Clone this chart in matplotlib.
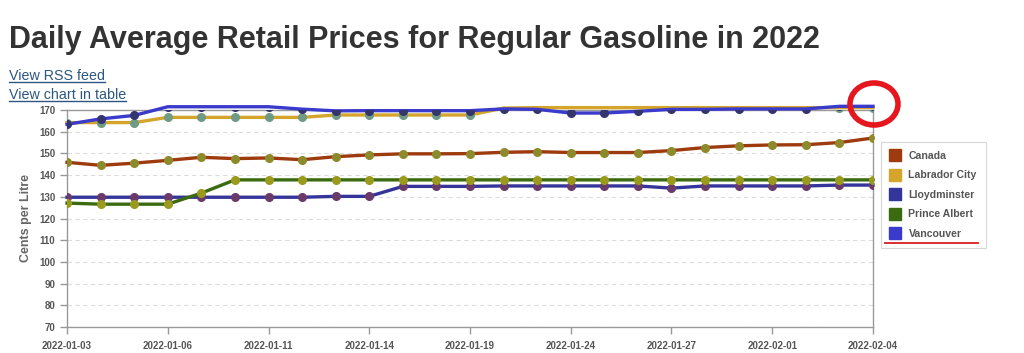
import matplotlib
matplotlib.use("Agg")
import matplotlib.pyplot as plt
from matplotlib.patches import Ellipse
from matplotlib.lines import Line2D

plt.rcParams['font.family'] = ['Liberation Sans', 'DejaVu Sans']

# business days shown on the chart
dates = ["2022-01-03", "2022-01-04", "2022-01-05", "2022-01-06", "2022-01-07",
         "2022-01-10", "2022-01-11", "2022-01-12", "2022-01-13", "2022-01-14",
         "2022-01-17", "2022-01-18", "2022-01-19", "2022-01-20", "2022-01-21",
         "2022-01-24", "2022-01-25", "2022-01-26", "2022-01-27", "2022-01-28",
         "2022-01-31", "2022-02-01", "2022-02-02", "2022-02-03", "2022-02-04"]

canada = [145.9, 144.5, 145.5, 146.8, 148.2, 147.6, 147.9, 147.1, 148.5, 149.3,
          149.8, 149.8, 149.9, 150.5, 150.8, 150.4, 150.4, 150.4, 151.3, 152.7,
          153.5, 153.9, 154.0, 155.0, 157.1]
labrador_city = [164.2, 164.2, 164.2, 166.6, 166.6, 166.6, 166.6, 166.6, 167.7, 167.7,
                 167.7, 167.7, 167.7, 170.9, 171.1, 171.1, 171.1, 171.1, 171.1, 171.1,
                 171.1, 171.1, 171.1, 171.1, 171.1]
lloydminster = [129.8, 129.8, 129.8, 129.8, 129.8, 129.8, 129.8, 129.8, 130.2, 130.2,
                134.8, 134.8, 134.8, 135.0, 135.0, 135.0, 135.0, 135.0, 134.0, 135.0,
                135.0, 135.0, 135.0, 135.4, 135.4]
prince_albert = [127.1, 126.6, 126.6, 126.6, 131.7, 137.8, 137.8, 137.8, 137.8, 137.8,
                 137.8, 137.8, 137.8, 137.8, 137.8, 137.8, 137.8, 137.8, 137.8, 137.8,
                 137.8, 137.8, 137.8, 137.8, 137.8]
vancouver = [163.4, 165.9, 167.5, 171.5, 171.5, 171.5, 171.5, 170.4, 169.6, 169.7,
             169.7, 169.7, 169.7, 170.5, 170.3, 168.6, 168.6, 169.4, 170.3, 170.3,
             170.5, 170.5, 170.5, 171.7, 171.7]

names = ["Canada", "Labrador City", "Lloydminster", "Prince Albert", "Vancouver"]
line_colors = ["#9e3b0e", "#d4a52a", "#34349a", "#3b6b10", "#3a3acc"]
marker_colors = ["#8c8a2a", "#6f9a86", "#6a3a6a", "#999a1e", "#34346e"]

W, H = 1024, 353
fig = plt.figure(figsize=(W / 100, H / 100), dpi=100)


def fx(px):
    return px / W


def fy(py):
    return 1 - py / H


ax = fig.add_axes([fx(67), fy(327), (873 - 67) / W, (327 - 110) / H])

x = list(range(len(dates)))
all_series = [canada, labrador_city, lloydminster, prince_albert, vancouver]
for vals, lc, mc in zip(all_series, line_colors, marker_colors):
    # lines spill over the top of the plot, markers do not
    ax.plot(x, vals, color=lc, lw=2.4, clip_on=False, zorder=3,
            solid_joinstyle='round')
    ax.plot(x, vals, ls='none', marker='o', ms=5.5, mfc=mc, mec=mc, zorder=4)

ax.set_xlim(0, len(dates) - 1)
ax.set_ylim(70, 170)
ax.set_xticks(x[::3])
ax.set_xticklabels(dates[::3])
ax.set_yticks(range(70, 171, 10))
ax.yaxis.grid(True, ls=(0, (4, 3)), color='#dcdcdc', lw=0.8)
ax.set_axisbelow(True)
ax.tick_params(length=5, width=1, color='#999999', labelcolor='#555555', labelsize=7)
ax.tick_params(axis='x', pad=5)
for lab in ax.get_xticklabels() + ax.get_yticklabels():
    lab.set_fontweight('bold')
for sp in ax.spines.values():
    sp.set_color('#999999')
    sp.set_linewidth(1)

ax.set_ylabel('Cents per Litre', fontweight='bold', color='#666666', fontsize=9)
ax.yaxis.set_label_coords(-0.0434, 0.5)

handles = [Line2D([], [], ls='none', marker='s', ms=8.5, mfc=c, mec=c)
           for c in line_colors]
leg = fig.legend(handles, names, loc='upper left',
                 bbox_to_anchor=(fx(881), fy(142)), frameon=True, fancybox=False,
                 edgecolor='#cccccc', prop={'weight': 'bold', 'size': 7.6},
                 labelcolor='#555555', handlelength=1.0, handletextpad=0.75,
                 labelspacing=0.9, borderpad=0.85, borderaxespad=0)
leg.get_frame().set_linewidth(0.8)

fig.text(fx(9), fy(48), "Daily Average Retail Prices for Regular Gasoline in 2022",
         fontsize=22, fontweight='bold', color='#333333', va='baseline')

link_color = '#2c5782'
links = [fig.text(fx(9), fy(80), "View RSS feed", fontsize=10.3, color=link_color,
                  va='baseline'),
         fig.text(fx(9), fy(99), "View chart in table", fontsize=10.3,
                  color=link_color, va='baseline')]
fig.canvas.draw()
for t, base in zip(links, [80, 99]):
    bb = t.get_window_extent()
    fig.add_artist(Line2D([bb.x0 / W, bb.x1 / W], [fy(base + 2)] * 2,
                          color=link_color, lw=1))

# red annotations drawn over the screenshot
fig.add_artist(Ellipse((fx(874), fy(104)), 48 / W, 42 / H, transform=fig.transFigure,
                       fill=False, ec='#e5161e', lw=4, zorder=10))
fig.add_artist(Line2D([fx(885), fx(978)], [fy(243)] * 2, color='#d42020', lw=1.3,
                      zorder=10))

fig.savefig("out.png", dpi=100)
